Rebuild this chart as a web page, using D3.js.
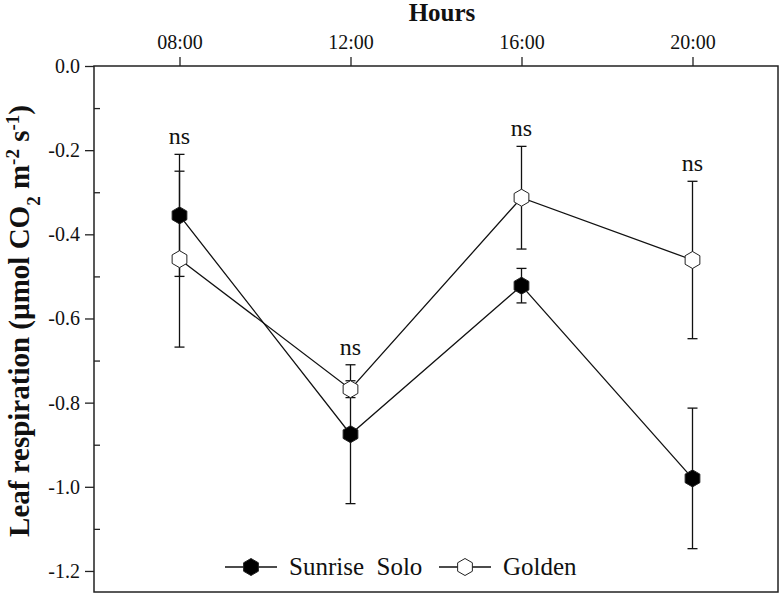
<!DOCTYPE html>
<html lang="en">
<head>
  <meta charset="UTF-8">
  <title>Leaf respiration</title>
  <script src="https://d3js.org/d3.v7.min.js"></script>
  <style>
    body { margin: 0; background: #fff; }
    text { font-family: "Liberation Serif", "Times New Roman", serif; fill: #111; }
  </style>
</head>
<body>
  <svg width="783" height="596"></svg>
  <script>
    // data
    const hours = [8, 12, 16, 20];
    const hourLabels = ["08:00", "12:00", "16:00", "20:00"];
    const sunrise = [-0.355, -0.875, -0.522, -0.980];
    const sunriseErr = [0.145, 0.165, 0.041, 0.167];
    const golden = [-0.459, -0.768, -0.313, -0.461];
    const goldenErr = [0.209, 0.02, 0.122, 0.187];
    const sigLabels = ["ns", "ns", "ns", "ns"];
    const yMajor = [0, -0.2, -0.4, -0.6, -0.8, -1.0, -1.2];
    const yMinor = [-0.1, -0.3, -0.5, -0.7, -0.9, -1.1];

    const svg = d3.select("svg");
    const pLeft = 94, pRight = 778, pTop = 66, pBottom = 592;

    const x = d3.scaleLinear().domain([6, 22]).range([pLeft, pRight]);
    const y = d3.scaleLinear().domain([0, -1.25]).range([pTop, pBottom]);

    // hexagon with a point on top
    function hexPath(cx, cy, r) {
      const pts = d3.range(6).map(i => {
        const a = Math.PI / 3 * i - Math.PI / 2;
        return [cx + r * Math.cos(a), cy + r * Math.sin(a)];
      });
      return "M" + pts.join("L") + "Z";
    }

    // frame
    svg.append("rect")
      .attr("x", pLeft).attr("y", pTop)
      .attr("width", pRight - pLeft).attr("height", pBottom - pTop)
      .attr("fill", "none").attr("stroke", "#222").attr("stroke-width", 1.5);

    // top axis
    const xAxis = d3.axisTop(x).tickValues(hours)
      .tickFormat((d, i) => hourLabels[i]).tickSizeInner(9).tickSizeOuter(0).tickPadding(8);
    const gx = svg.append("g").attr("transform", `translate(0,${pTop})`).call(xAxis);
    gx.select(".domain").remove();
    gx.selectAll("line").attr("stroke", "#222").attr("stroke-width", 1.3);
    gx.selectAll("text").style("font-family", "Liberation Serif").style("font-size", "20px").attr("fill", "#111");

    // left axis, majors outside
    const yAxis = d3.axisLeft(y).tickValues(yMajor)
      .tickFormat(d => d.toFixed(1)).tickSizeInner(9).tickSizeOuter(0).tickPadding(5);
    const gy = svg.append("g").attr("transform", `translate(${pLeft},0)`).call(yAxis);
    gy.select(".domain").remove();
    gy.selectAll("line").attr("stroke", "#222").attr("stroke-width", 1.3);
    gy.selectAll("text").style("font-family", "Liberation Serif").style("font-size", "20px").attr("fill", "#111");

    // minor ticks inside
    const gm = svg.append("g").attr("transform", `translate(${pLeft},0)`)
      .call(d3.axisRight(y).tickValues(yMinor).tickSize(6).tickFormat(""));
    gm.select(".domain").remove();
    gm.selectAll("line").attr("stroke", "#222").attr("stroke-width", 1.3);

    // titles
    svg.append("text").attr("x", 442).attr("y", 21).attr("text-anchor", "middle")
      .style("font-size", "25px").style("font-weight", "bold").text("Hours");

    const yt = svg.append("text")
      .attr("transform", `translate(29,${(pTop + pBottom) / 2 - 8}) rotate(-90)`)
      .attr("text-anchor", "middle")
      .style("font-size", "29px").style("font-weight", "bold");
    yt.append("tspan").text("Leaf respiration (\u00b5mol CO");
    yt.append("tspan").attr("baseline-shift", "sub").style("font-size", "19px").text("2");
    yt.append("tspan").text(" m");
    yt.append("tspan").attr("baseline-shift", "super").style("font-size", "19px").text("-2");
    yt.append("tspan").text(" s");
    yt.append("tspan").attr("baseline-shift", "super").style("font-size", "19px").text("-1");
    yt.append("tspan").text(")");

    const series = [
      { vals: sunrise, err: sunriseErr, fill: "#000" },
      { vals: golden, err: goldenErr, fill: "#fff" }
    ];

    const line = d3.line().x((d, i) => x(hours[i])).y(d => y(d));

    series.forEach(s => {
      svg.append("path").attr("d", line(s.vals))
        .attr("fill", "none").attr("stroke", "#111").attr("stroke-width", 1.3);

      const eb = svg.append("g");
      s.vals.forEach((v, i) => {
        const cx = x(hours[i]);
        const y1 = y(v + s.err[i]), y2 = y(v - s.err[i]);
        eb.append("line").attr("x1", cx).attr("x2", cx).attr("y1", y1).attr("y2", y2);
        eb.append("line").attr("x1", cx - 5).attr("x2", cx + 5).attr("y1", y1).attr("y2", y1);
        eb.append("line").attr("x1", cx - 5).attr("x2", cx + 5).attr("y1", y2).attr("y2", y2);
      });
      eb.selectAll("line").attr("stroke", "#111").attr("stroke-width", 1.3);
    });

    series.forEach(s => {
      svg.append("g").selectAll("path").data(s.vals).join("path")
        .attr("d", (d, i) => hexPath(x(hours[i]), y(d), 8.5))
        .attr("fill", s.fill).attr("stroke", "#222").attr("stroke-width", 1);
    });

    // significance labels above the highest cap
    svg.append("g").selectAll("text").data(hours).join("text")
      .attr("x", d => x(d))
      .attr("y", (d, i) => Math.min(y(sunrise[i] + sunriseErr[i]), y(golden[i] + goldenErr[i])) - 10)
      .attr("text-anchor", "middle").style("font-size", "24px")
      .text((d, i) => sigLabels[i]);

    // legend
    const lg = svg.append("g").attr("transform", "translate(0,567)");
    const legendItems = [
      { name: "Sunrise\u00a0 Solo", fill: "#000", x0: 225 },
      { name: "Golden", fill: "#fff", x0: 439 }
    ];
    legendItems.forEach(it => {
      lg.append("line").attr("x1", it.x0).attr("x2", it.x0 + 52).attr("y1", 0).attr("y2", 0)
        .attr("stroke", "#111").attr("stroke-width", 1.3);
      lg.append("path").attr("d", hexPath(it.x0 + 26, 0, 8.5))
        .attr("fill", it.fill).attr("stroke", "#222").attr("stroke-width", 1);
      lg.append("text").attr("x", it.x0 + 64).attr("y", 8)
        .style("font-size", "25px").text(it.name);
    });
  </script>
</body>
</html>
